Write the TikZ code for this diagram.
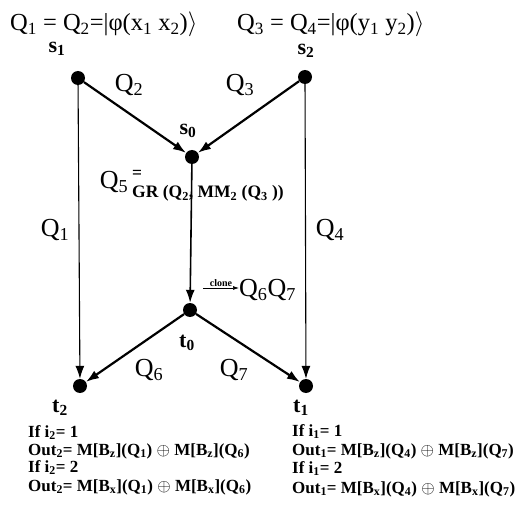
\documentclass[tikz,border=0pt]{standalone}
\usepackage{fontspec}
\setmainfont{Liberation Serif}
\usetikzlibrary{arrows.meta}
\newcommand{\sbs}[1]{\textsubscript{#1}}

\begin{document}
\begin{tikzpicture}[x=1pt, y=-1pt,
    dot/.style={circle, fill=black, inner sep=0pt, minimum size=14pt},
    arr/.style={-{Latex[length=13pt,width=9pt]}, line width=1.1pt},
    thk/.style={line width=2.2pt},
    qlab/.style={font=\fontsize{26}{28}\selectfont, inner sep=0pt},
    vlab/.style={font=\fontsize{22}{24}\selectfont\bfseries, inner sep=0pt},
    rule/.style={font=\fontsize{17}{19}\selectfont\bfseries, anchor=base west, inner sep=0pt},
]
\useasboundingbox (0,0) rectangle (528,516);

% Vertices
\node[dot] (s1) at (78,78) {};
\node[dot] (s2) at (305,77) {};
\node[dot] (s0) at (192,157) {};
\node[dot] (t0) at (190,310) {};
\node[dot] (t2) at (80,386) {};
\node[dot] (t1) at (306,386) {};

% Vertex names
\node[vlab] (ls1) at (57,49) {s\sbs{1}};
\node[vlab] (ls2) at (306,51) {s\sbs{2}};
\node[vlab] (ls0) at (188,131) {s\sbs{0}};
\node[vlab] (lt0) at (187,343) {t\sbs{0}};
\node[vlab] (lt2) at (60,408) {t\sbs{2}};
\node[vlab] (lt1) at (301,408) {t\sbs{1}};

% Initial states
\node[qlab, font=\fontsize{24.5}{26}\selectfont, anchor=base west] (st1) at (10,31)
  {Q\sbs{1} = Q\sbs{2}=|φ(x\sbs{1} x\sbs{2})$\rangle$};
\node[qlab, font=\fontsize{24.5}{26}\selectfont, anchor=base west] (st2) at (237,31)
  {Q\sbs{3} = Q\sbs{4}=|φ(y\sbs{1} y\sbs{2})$\rangle$};

% Edges
\draw[arr] (s1) -- (t2);
\draw[arr] (s2) -- (t1);
\draw[arr, thk] (s1) -- (s0);
\draw[arr, thk] (s2) -- (s0);
\draw[arr, line width=1.6pt] (s0) -- (t0);
\draw[arr, thk] (t0) -- (t2);
\draw[arr, thk] (t0) -- (t1);

% Edge labels
\node[qlab] (q1) at (55,230) {Q\sbs{1}};
\node[qlab] (q2) at (129,85) {Q\sbs{2}};
\node[qlab] (q3) at (240,85) {Q\sbs{3}};
\node[qlab] (q4) at (330,230) {Q\sbs{4}};
\node[qlab] (q5) at (114,182) {Q\sbs{5}};
\node[font=\fontsize{17.5}{19}\selectfont\bfseries, inner sep=0pt] (eq5) at (137,174) {=};
\node[rule, font=\fontsize{17.5}{19}\selectfont\bfseries] (gr) at (132,198) {GR (Q\sbs{2}, MM\sbs{2} (Q\sbs{3} ))};
\node[qlab] (q6) at (149,370) {Q\sbs{6}};
\node[qlab] (q7) at (234,370) {Q\sbs{7}};

% Cloning
\node[qlab, anchor=west] (q67) at (239,290) {Q\sbs{6}Q\sbs{7}};
\coordinate (cl) at (203,288);
\draw[-{Latex[length=6pt,width=4pt]}, line width=0.7pt] (cl) -- (q67.west |- cl)
  node[midway, above=1pt, font=\fontsize{10}{11}\selectfont\bfseries, inner sep=0pt] {clone};

% Measurements
\node[rule] (r21) at (28,437) {If i\sbs{2}= 1};
\node[rule] (r22) at (28,455) {Out\sbs{2}= M[B\sbs{z}](Q\sbs{1}) $\oplus$ M[B\sbs{z}](Q\sbs{6})};
\node[rule] (r23) at (28,472) {If i\sbs{2}= 2};
\node[rule] (r24) at (28,491) {Out\sbs{2}= M[B\sbs{x}](Q\sbs{1}) $\oplus$ M[B\sbs{x}](Q\sbs{6})};
\node[rule] (r11) at (292,436) {If i\sbs{1}= 1};
\node[rule] (r12) at (292,455) {Out\sbs{1}= M[B\sbs{z}](Q\sbs{4}) $\oplus$ M[B\sbs{z}](Q\sbs{7})};
\node[rule] (r13) at (292,473) {If i\sbs{1}= 2};
\node[rule] (r14) at (292,493) {Out\sbs{1}= M[B\sbs{x}](Q\sbs{4}) $\oplus$ M[B\sbs{x}](Q\sbs{7})};

\end{tikzpicture}
\end{document}
